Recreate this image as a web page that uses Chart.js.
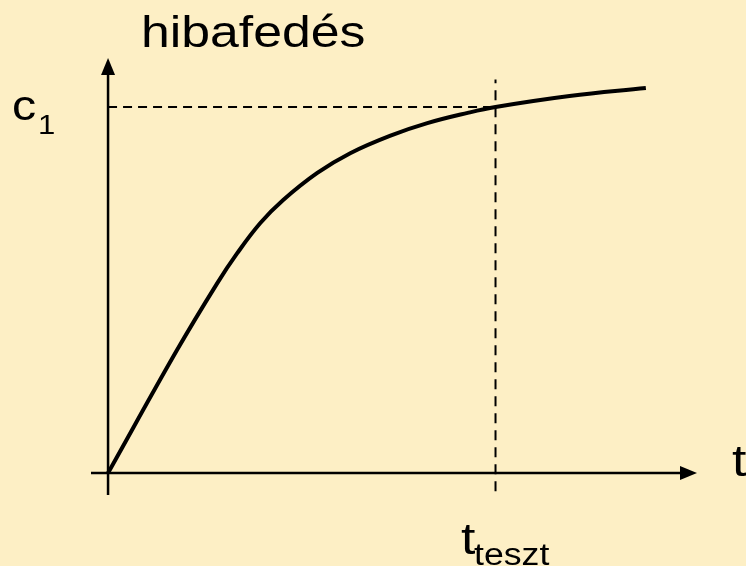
<!DOCTYPE html>
<html>
<head>
<meta charset="utf-8">
<script src="https://cdn.jsdelivr.net/npm/chart.js@4"></script>
<style>
  html, body { margin: 0; padding: 0; background: #fdefc5; }
  #wrap { width: 746px; height: 566px; }
</style>
</head>
<body>
<div id="wrap"><canvas id="myChart"></canvas></div>
<script>
// coverage curve (t in arbitrary units, tteszt = 10, c1 = 1)
const tValues = [0, 1.78, 2.82, 3.33, 3.93, 4.52, 5.4, 6.25, 7.29, 8.24, 9.28, 10, 11.91, 13.88];
const coverageValues = [0, 0.336, 0.519, 0.600, 0.683, 0.746, 0.820, 0.874, 0.922, 0.956, 0.984, 1.0, 1.03, 1.052];
const tTeszt = 10;
const c1 = 1;
const xRange = [-0.44, 15.2];
const yRange = [-0.06, 1.134];

const ctx = document.getElementById('myChart');

const curve = tValues.map((t, i) => ({ x: t, y: coverageValues[i] }));

// axes with arrows + labels
const axesPlugin = {
    id: 'axesPlugin',
    afterDatasetsDraw(chart) {
        const c = chart.ctx;
        const xs = chart.scales.x, ys = chart.scales.y;
        const x0 = xs.getPixelForValue(0), y0 = ys.getPixelForValue(0);
        const left = xs.getPixelForValue(xRange[0]), right = xs.getPixelForValue(xRange[1]);
        const top = ys.getPixelForValue(yRange[1]), bottom = ys.getPixelForValue(yRange[0]);
        c.save();
        c.strokeStyle = '#000';
        c.fillStyle = '#000';
        c.lineWidth = 2.5;
        c.beginPath();
        c.moveTo(left, y0); c.lineTo(right - 14, y0);
        c.moveTo(x0, bottom); c.lineTo(x0, top + 14);
        c.stroke();
        // arrow heads
        c.beginPath();
        c.moveTo(right, y0); c.lineTo(right - 17, y0 - 7); c.lineTo(right - 17, y0 + 7); c.closePath();
        c.fill();
        c.beginPath();
        c.moveTo(x0, top); c.lineTo(x0 - 7, top + 17); c.lineTo(x0 + 7, top + 17); c.closePath();
        c.fill();

        const txt = (s, x, y, size) => {
            c.save();
            c.translate(x, y);
            c.scale(1.15, 1);
            c.font = size + 'px "Liberation Sans", Arial, sans-serif';
            c.textBaseline = 'alphabetic';
            c.fillText(s, 0, 0);
            c.restore();
        };
        txt('hibafedés', 141, 47, 45);
        txt('c', 12, 120, 42);
        txt('1', 38, 134, 27);
        txt('t', 732, 476, 45);
        txt('t', 461, 554, 45);
        txt('teszt', 474, 565, 31);
        c.restore();
    }
};

const myChart = new Chart(ctx, {
    type: 'scatter',
    data: {
        datasets: [{
            data: curve,
            showLine: true,
            borderColor: '#000',
            borderWidth: 4,
            pointRadius: 0,
            tension: 0.4
        }, {
            // c1 guide
            data: [{ x: 0, y: c1 }, { x: tTeszt, y: c1 }],
            showLine: true,
            borderColor: '#000',
            borderWidth: 2,
            borderDash: [9, 6],
            pointRadius: 0
        }, {
            // tteszt guide
            data: [{ x: tTeszt, y: -0.05 }, { x: tTeszt, y: 1.075 }],
            showLine: true,
            borderColor: '#000',
            borderWidth: 2,
            borderDash: [10, 7],
            pointRadius: 0
        }]
    },
    options: {
        responsive: true,
        maintainAspectRatio: false,
        animation: false,
        layout: { padding: { left: 91, top: 58, right: 49, bottom: 71 } },
        plugins: { legend: { display: false }, tooltip: { enabled: false } },
        scales: {
            x: { type: 'linear', min: xRange[0], max: xRange[1], display: false },
            y: { type: 'linear', min: yRange[0], max: yRange[1], display: false }
        }
    },
    plugins: [axesPlugin]
});
</script>
</body>
</html>
